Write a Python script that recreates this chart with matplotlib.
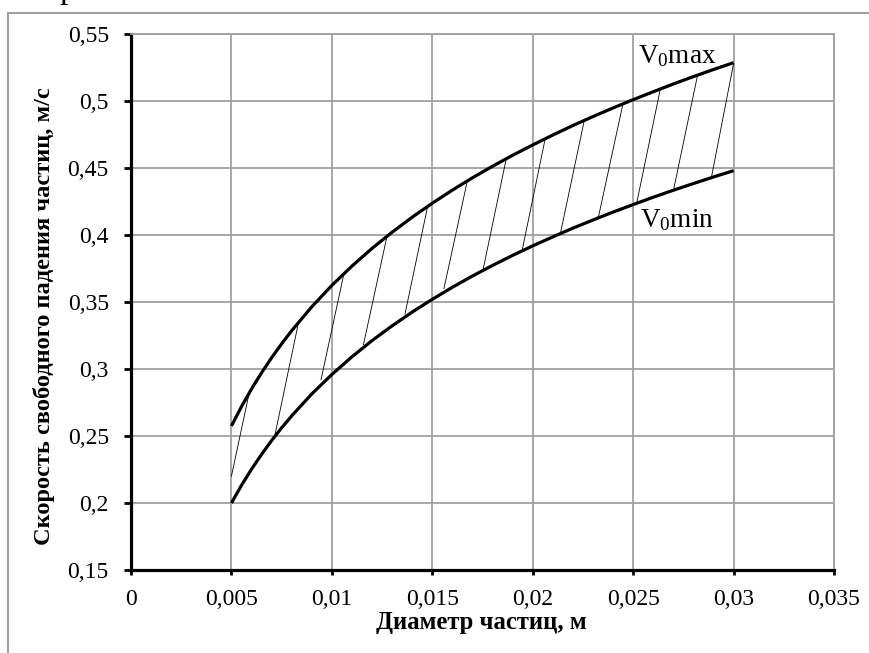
import numpy as np
import matplotlib
matplotlib.use("Agg")
import matplotlib.pyplot as plt
from matplotlib.patches import Rectangle
from matplotlib.ticker import FuncFormatter

plt.rcParams['font.family'] = ['Liberation Serif', 'DejaVu Serif']
plt.rcParams['mathtext.fontset'] = 'custom'
plt.rcParams['mathtext.rm'] = 'Liberation Serif'

# particle diameter, m
diam = [0.005, 0.0055, 0.006, 0.0065, 0.007, 0.0075, 0.008, 0.009, 0.010,
        0.011, 0.012, 0.013, 0.014, 0.015, 0.016, 0.017, 0.018, 0.019,
        0.020, 0.021, 0.022, 0.023, 0.024, 0.025, 0.026, 0.027, 0.028,
        0.029, 0.030]
# free fall velocity, m/s
v_max = [0.2575, 0.2719, 0.2851, 0.2972, 0.3084, 0.3188, 0.3286, 0.3464,
         0.3624, 0.3768, 0.3900, 0.4021, 0.4133, 0.4237, 0.4335, 0.4427,
         0.4513, 0.4595, 0.4672, 0.4746, 0.4817, 0.4884, 0.4948, 0.5010,
         0.5069, 0.5127, 0.5182, 0.5235, 0.5286]
v_min = [0.2000, 0.2132, 0.2252, 0.2363, 0.2466, 0.2561, 0.2650, 0.2814,
         0.2959, 0.3091, 0.3212, 0.3322, 0.3425, 0.3520, 0.3610, 0.3694,
         0.3773, 0.3848, 0.3919, 0.3986, 0.4051, 0.4112, 0.4171, 0.4227,
         0.4282, 0.4334, 0.4384, 0.4433, 0.4480]

# hatch strokes between the curves (lower end -> upper end)
hatch_x0 = [0.00500, 0.00717, 0.00946, 0.01157, 0.01364, 0.01558, 0.01754,
            0.01948, 0.02139, 0.02328, 0.02518, 0.02703, 0.02891]
hatch_y0 = [0.220, 0.251, 0.292, 0.318, 0.341, 0.360, 0.375,
            0.389, 0.402, 0.414, 0.424, 0.435, 0.444]
hatch_x1 = [0.00584, 0.00833, 0.01057, 0.01273, 0.01475, 0.01674, 0.01867,
            0.02061, 0.02256, 0.02448, 0.02634, 0.02819, 0.03000]
hatch_y1 = [0.279, 0.334, 0.369, 0.398, 0.420, 0.440, 0.456,
            0.471, 0.485, 0.497, 0.508, 0.518, 0.528]

xticks = [0, 0.005, 0.01, 0.015, 0.02, 0.025, 0.03, 0.035]
yticks = [0.15, 0.2, 0.25, 0.3, 0.35, 0.4, 0.45, 0.5, 0.55]

fig = plt.figure(figsize=(8.69, 6.53), dpi=100)
ax = fig.add_axes([131 / 869, 1 - 570 / 653, 703 / 869, 536 / 653])

# outer chart frame
fig.patches.append(Rectangle((8 / 869, -0.5), 2, 0.5 + 1 - 13 / 653,
                             transform=fig.transFigure, fill=False,
                             edgecolor='#a0a0a0', linewidth=1.5))
# cut-off text above the chart (only its descender shows)
fig.text(68 / 869, 1 + 2 / 653, 'р', fontsize=24, ha='center', va='baseline')

ax.plot(diam, v_max, color='black', linewidth=2.3, solid_capstyle='butt',
        solid_joinstyle='round')
ax.plot(diam, v_min, color='black', linewidth=2.3, solid_capstyle='butt',
        solid_joinstyle='round')
for xa, ya, xb, yb in zip(hatch_x0, hatch_y0, hatch_x1, hatch_y1):
    ax.plot([xa, xb], [ya, yb], color='black', linewidth=0.6)

ax.text(0.02524, 0.5284, r'$\mathrm{V_0}$max', fontsize=19.5, va='baseline')
ax.text(0.02534, 0.4062, r'$\mathrm{V_0}$min', fontsize=19.5, va='baseline')

ax.set_xlim(0, 0.035)
ax.set_ylim(0.15, 0.55)
ax.set_xticks(xticks)
ax.set_yticks(yticks)
fmt = FuncFormatter(lambda v, p: ('%g' % round(v, 4)).replace('.', ','))
ax.xaxis.set_major_formatter(fmt)
ax.yaxis.set_major_formatter(fmt)
ax.grid(True, color='#a0a0a0', linewidth=1.3)
ax.set_axisbelow(True)

for s in ['top', 'right']:
    ax.spines[s].set_color('#a0a0a0')
    ax.spines[s].set_linewidth(1.3)
for s in ['left', 'bottom']:
    ax.spines[s].set_color('black')
    ax.spines[s].set_linewidth(2.3)

ax.tick_params(axis='x', direction='out', length=3.5, width=2, pad=10,
               labelsize=17)
ax.tick_params(axis='y', direction='out', length=5, width=2, pad=11,
               labelsize=17)

fig.text(481 / 869, 1 - 622 / 653, 'Диаметр частиц, м', fontsize=17.8,
         fontweight='bold', ha='center', va='center')
fig.text(44 / 869, 1 - 316 / 653, 'Скорость свободного падения частиц, м/с',
         fontsize=17.6, fontweight='bold', ha='center', va='center', rotation=90)

fig.savefig('out.png', dpi=100)
